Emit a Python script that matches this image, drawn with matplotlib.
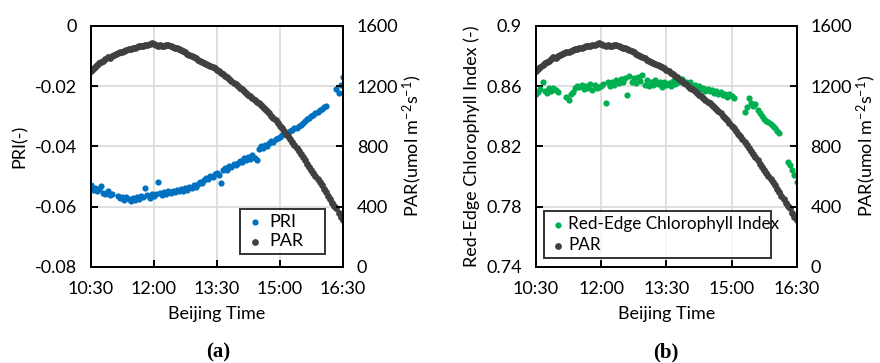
import numpy as np
import matplotlib
matplotlib.use("Agg")
import matplotlib.pyplot as plt

plt.rcParams['font.family'] = ['Lato', 'DejaVu Sans']
plt.rcParams['mathtext.fontset'] = 'custom'
plt.rcParams['mathtext.rm'] = 'Lato'
plt.rcParams['mathtext.it'] = 'Lato:italic'
plt.rcParams['mathtext.bf'] = 'Lato:bold'

nan = np.nan

# sampling every 3 minutes, 10:30 - 16:30 (minutes after midnight)
minutes = np.arange(630, 991, 3)

par = [
    1300, 1316, 1330, 1340, 1352, 1362, 1370, 1380, 1392, 1388,
    1400, 1408, 1414, 1420, 1424, 1430, 1436, 1440, 1446, 1448,
    1452, 1456, 1460, 1464, 1466, 1470, 1474, 1476, 1482, 1490,
    1480, 1476, 1470, 1474, 1468, 1466, 1472, 1476, 1466, 1460,
    1455, 1452, 1446, 1440, 1432, 1424, 1416, 1410, 1400, 1392,
    1384, 1376, 1370, 1362, 1356, 1350, 1344, 1336, 1326, 1318,
    1308, 1298, 1288, 1278, 1268, 1258, 1246, 1236, 1224, 1212,
    1200, 1190, 1178, 1166, 1154, 1144, 1132, 1120, 1110, 1098,
    1088, 1075, 1062, 1048, 1034, 1019, 1004, 988, 972, 955,
    938, 920, 902, 884, 866, 848, 829, 810, 790, 770,
    748, 727, 706, 685, 664, 643, 622, 602, 582, 561,
    540, 517, 494, 471, 448, 425, 402, 392, 356, 333,
    310,
]

pri = [
    -0.0530, -0.0545, -0.0538, -0.0550, -0.0542, -0.0532, -0.0555, -0.0560, -0.0548, -0.0562,
    -0.0558, nan, nan, -0.0565, -0.0572, -0.0568, -0.0578, -0.0570, -0.0575, -0.0582,
    -0.0572, -0.0578, -0.0568, -0.0575, -0.0565, -0.0570, -0.0540, -0.0562, -0.0572, -0.0558,
    -0.0565, -0.0560, -0.0518, -0.0555, -0.0562, -0.0552, -0.0558, -0.0550, -0.0556, -0.0548,
    -0.0553, -0.0545, -0.0550, -0.0542, -0.0548, -0.0540, -0.0545, -0.0535, -0.0540, -0.0530,
    -0.0535, -0.0525, -0.0518, -0.0522, -0.0512, -0.0505, -0.0510, -0.0498, -0.0502, -0.0492,
    -0.0488, -0.0495, -0.0522, -0.0480, -0.0472, -0.0478, -0.0466, -0.0470, -0.0458, -0.0462,
    -0.0455, -0.0448, -0.0452, -0.0440, -0.0446, -0.0435, -0.0442, -0.0430, -0.0438, -0.0445,
    -0.0408, -0.0400, -0.0405, -0.0395, -0.0398, -0.0388, -0.0382, -0.0385, -0.0376, -0.0372,
    -0.0368, -0.0362, nan, nan, nan, -0.0350, -0.0345, -0.0338, -0.0340, -0.0332,
    -0.0328, -0.0322, -0.0316, -0.0310, -0.0305, -0.0300, -0.0296, -0.0290, -0.0285, -0.0280,
    -0.0276, -0.0270, -0.0266, nan, nan, nan, nan, -0.0210, -0.0222, -0.0195,
    -0.0170,
]

reci = [
    0.8545, 0.8560, 0.8578, 0.8626, 0.8565, 0.8555, 0.8585, 0.8570, 0.8590, 0.8575,
    0.8560, nan, nan, nan, 0.8530, 0.8510, 0.8545, 0.8560, 0.8585, 0.8600,
    0.8595, 0.8610, 0.8580, 0.8600, 0.8590, 0.8615, 0.8575, 0.8605, 0.8585, 0.8595,
    0.8600, 0.8615, 0.8485, 0.8625, 0.8600, 0.8630, 0.8610, 0.8640, 0.8620, 0.8645,
    0.8625, 0.8655, 0.8540, 0.8670, 0.8630, 0.8655, 0.8620, 0.8660, 0.8635, 0.8675,
    0.8610, 0.8640, 0.8600, 0.8630, 0.8605, 0.8640, 0.8615, 0.8625, 0.8595, 0.8630,
    0.8605, 0.8620, 0.8600, 0.8635, 0.8615, 0.8640, 0.8625, 0.8645, 0.8620, 0.8630,
    0.8615, 0.8625, 0.8600, 0.8610, 0.8590, 0.8600, 0.8580, 0.8590, 0.8570, 0.8580,
    0.8565, 0.8575, 0.8555, 0.8565, 0.8550, 0.8560, 0.8540, 0.8550, 0.8530, 0.8545,
    0.8535, 0.8520, nan, nan, nan, nan, 0.8430, 0.8460, 0.8520, 0.8490,
    0.8470, 0.8480, 0.8440, 0.8420, 0.8400, 0.8380, 0.8370, 0.8360, 0.8350, 0.8335,
    0.8320, 0.8305, 0.8290, nan, nan, nan, 0.8095, 0.8075, 0.8040, 0.8010,
    0.7960,
]

time_ticks = [630, 720, 810, 900, 990]
time_labels = ["10:30", "12:00", "13:30", "15:00", "16:30"]
par_ticks = [0, 400, 800, 1200, 1600]
pri_ticks = [-0.08, -0.06, -0.04, -0.02, 0]
pri_labels = ["-0.08", "-0.06", "-0.04", "-0.02", "0"]
reci_ticks = [0.74, 0.78, 0.82, 0.86, 0.90]
reci_labels = ["0.74", "0.78", "0.82", "0.86", "0.9"]

BLUE = "#0070C0"
GREEN = "#00B050"
DARK = "#404040"
FS = 13


def style_axes(ax, ax2):
    for a in (ax, ax2):
        for sp in a.spines.values():
            sp.set_linewidth(1.4)
            sp.set_color("black")
    ax.set_xlim(630, 990)
    ax.set_xticks(time_ticks)
    ax.set_xticklabels(time_labels)
    ax.grid(True, color="#d9d9d9", linewidth=1.2)
    ax.set_axisbelow(True)
    ax.tick_params(axis="both", direction="in", length=5, width=1.4,
                   labelsize=FS, pad=10, colors="black")
    ax2.set_ylim(0, 1600)
    ax2.set_yticks(par_ticks)
    ax2.tick_params(axis="y", direction="in", length=5, width=1.4,
                    labelsize=FS, pad=10)
    ax2.set_ylabel("PAR(umol m$^{-2}$s$^{-1}$)", fontsize=FS, labelpad=2)
    ax.set_xlabel("Beijing Time", fontsize=FS, labelpad=7)


fig = plt.figure(figsize=(8.8, 3.63), dpi=100)

# (a) PRI
ax_a = fig.add_axes([0.1031, 0.2653, 0.2864, 0.6631])
ax_a2 = ax_a.twinx()
h1 = ax_a.scatter(minutes, pri, s=20, color=BLUE, linewidths=0, label="PRI")
h2 = ax_a2.scatter(minutes, par, s=24, color=DARK, linewidths=0, label="PAR")
ax_a.set_ylim(-0.08, 0)
ax_a.set_yticks(pri_ticks)
ax_a.set_yticklabels(pri_labels)
ax_a.set_ylabel("PRI(-)", fontsize=FS, labelpad=5)
style_axes(ax_a, ax_a2)
leg = ax_a2.legend([h1, h2], ["PRI", "PAR"], loc="lower left",
                   bbox_to_anchor=(0.592, 0.053, 0.338, 0.183), mode="expand",
                   fontsize=FS, frameon=True, fancybox=False, borderpad=0.25,
                   labelspacing=0.2, handletextpad=0.2, handlelength=1.2,
                   markerscale=1.0, borderaxespad=0)
leg.get_frame().set_edgecolor("black")
leg.get_frame().set_linewidth(1.4)

# (b) Red-Edge Chlorophyll Index
ax_b = fig.add_axes([0.6091, 0.2653, 0.2962, 0.6631])
ax_b2 = ax_b.twinx()
g1 = ax_b.scatter(minutes, reci, s=20, color=GREEN, linewidths=0)
g2 = ax_b2.scatter(minutes, par, s=24, color=DARK, linewidths=0)
ax_b.set_ylim(0.74, 0.90)
ax_b.set_yticks(reci_ticks)
ax_b.set_yticklabels(reci_labels)
ax_b.set_ylabel("Red-Edge Chlorophyll Index (-)", fontsize=FS, labelpad=5)
style_axes(ax_b, ax_b2)
leg = ax_b2.legend([g1, g2], ["Red-Edge Chlorophyll Index", "PAR"], loc="lower left",
                   bbox_to_anchor=(0.031, 0.035, 0.869, 0.225), mode="expand",
                   fontsize=12.3, frameon=True, fancybox=False, borderpad=0.3,
                   labelspacing=0.3, handletextpad=0.1, handlelength=1.0,
                   markerscale=1.0, borderaxespad=0)
leg.get_frame().set_edgecolor("black")
leg.get_frame().set_linewidth(1.4)

fig.text(0.2475, 0.03, "(a)", ha="center", va="center", fontsize=15,
         family="Liberation Serif", fontweight="bold")
fig.text(0.757, 0.03, "(b)", ha="center", va="center", fontsize=15,
         family="Liberation Serif", fontweight="bold")

fig.savefig("out.png", dpi=100)
